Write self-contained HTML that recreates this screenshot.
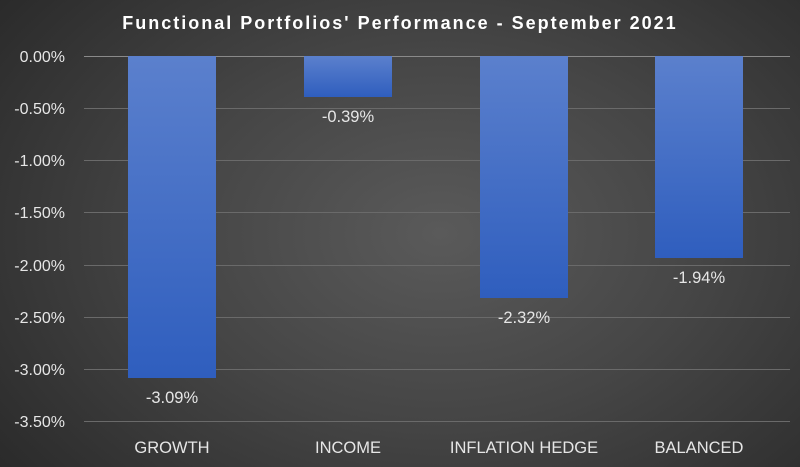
<!DOCTYPE html>
<html><head><style>
html,body{margin:0;padding:0}
body{width:800px;height:467px;overflow:hidden;background:radial-gradient(ellipse 75% 90% at 55% 50%,#5a5a5a 0%,#454545 45%,#262626 100%);font-family:Calibri,"Liberation Sans",sans-serif;}
</style></head><body>
<svg width="800" height="467" xmlns="http://www.w3.org/2000/svg" style="position:absolute;left:0;top:0">
<defs><linearGradient id="g" x1="0" y1="0" x2="0" y2="1"><stop offset="0" stop-color="#5b80cd"/><stop offset="1" stop-color="#2f5ebe"/></linearGradient></defs>
<text x="400" y="29" text-anchor="middle" font-family="Liberation Sans,sans-serif" font-weight="bold" font-size="18" letter-spacing="2" fill="#fff">Functional  Portfolios' Performance - September 2021</text>
<g stroke="#6a6a6a" stroke-width="1">
<line x1="84" x2="790" y1="56.5" y2="56.5" stroke="#8a8a8a"/>
<line x1="84" x2="790" y1="108.5" y2="108.5"/>
<line x1="84" x2="790" y1="160.5" y2="160.5"/>
<line x1="84" x2="790" y1="212.5" y2="212.5"/>
<line x1="84" x2="790" y1="265.5" y2="265.5"/>
<line x1="84" x2="790" y1="317.5" y2="317.5"/>
<line x1="84" x2="790" y1="369.5" y2="369.5"/>
<line x1="84" x2="790" y1="421.5" y2="421.5"/>
</g>
<g font-family="Liberation Sans,sans-serif" font-size="16" fill="#e6e6e6" text-anchor="end">
<text x="65" y="62">0.00%</text><text x="65" y="114">-0.50%</text><text x="65" y="166">-1.00%</text><text x="65" y="218">-1.50%</text><text x="65" y="271">-2.00%</text><text x="65" y="323">-2.50%</text><text x="65" y="375">-3.00%</text><text x="65" y="427">-3.50%</text>
</g>
<rect x="128" y="56" width="88" height="322" fill="url(#g)"/>
<rect x="304" y="56" width="88" height="41" fill="url(#g)"/>
<rect x="480" y="56" width="88" height="242" fill="url(#g)"/>
<rect x="655" y="56" width="88" height="202" fill="url(#g)"/>
<g font-family="Liberation Sans,sans-serif" font-size="16.5" fill="#e6e6e6" text-anchor="middle">
<text x="172" y="403">-3.09%</text><text x="348" y="122">-0.39%</text><text x="524" y="323">-2.32%</text><text x="699" y="283">-1.94%</text>
<text x="172" y="453">GROWTH</text><text x="348" y="453">INCOME</text><text x="524" y="453">INFLATION HEDGE</text><text x="699" y="453">BALANCED</text>
</g>
</svg>
</body></html>
